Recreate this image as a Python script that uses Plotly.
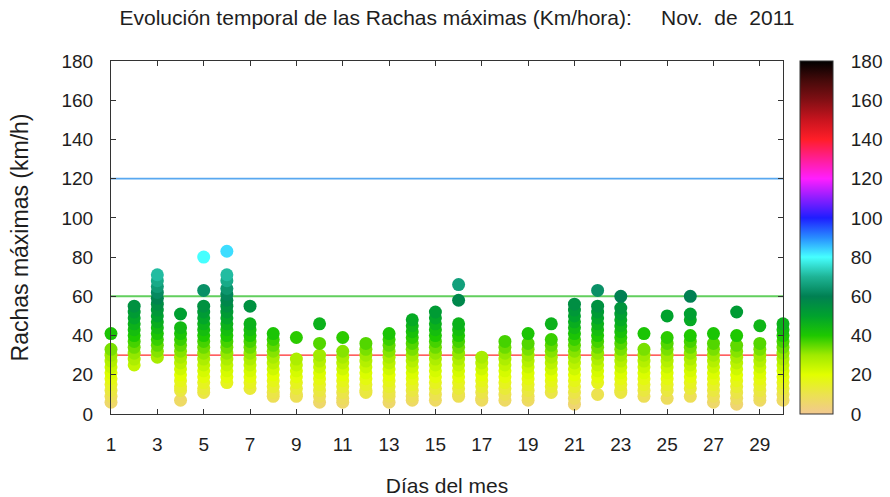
import plotly.graph_objects as go

# ---------------- data ----------------
days = list(range(1, 31))
x_tick_vals = list(range(1, 30, 2))
x_tick_text = [str(d) for d in x_tick_vals]
y_tick_vals = list(range(0, 181, 20))

gust_d01 = [41, 33, 30, 27, 24, 21, 18, 15, 12, 9, 6]
gust_d02 = [55, 52, 49, 46, 43, 40, 37, 34, 31, 28, 25]
gust_d03 = [71, 68, 65, 62, 59, 56, 53, 50, 47, 44, 41, 38, 35, 32, 29]
gust_d04 = [51, 44, 41, 38, 35, 32, 29, 26, 23, 20, 17, 14, 12, 7]
gust_d05 = [80, 63, 55, 52, 49, 46, 43, 40, 37, 34, 31, 28, 25, 22, 19, 16, 13, 11]
gust_d06 = [83, 71, 68, 64, 61, 58, 55, 52, 49, 46, 43, 40, 37, 34, 31, 28, 25, 22, 19, 16]
gust_d07 = [55, 46, 43, 40, 37, 34, 31, 28, 25, 22, 19, 16, 13]
gust_d08 = [41, 38, 35, 32, 29, 26, 23, 20, 17, 14, 11, 9]
gust_d09 = [39, 28, 25, 22, 19, 16, 13, 10, 9]
gust_d10 = [46, 36, 30, 27, 24, 21, 18, 15, 12, 9, 6]
gust_d11 = [39, 32, 29, 26, 23, 20, 17, 14, 11, 8, 6]
gust_d12 = [36, 33, 30, 27, 24, 21, 18, 15, 12, 11]
gust_d13 = [41, 38, 35, 32, 29, 26, 23, 20, 17, 14, 11, 9, 6]
gust_d14 = [48, 45, 42, 39, 36, 33, 30, 27, 24, 21, 18, 15, 12, 9, 7]
gust_d15 = [52, 49, 46, 43, 40, 37, 34, 31, 28, 25, 22, 19, 16, 13, 10, 7]
gust_d16 = [66, 58, 46, 43, 40, 37, 34, 31, 28, 25, 22, 19, 16, 13, 10, 9]
gust_d17 = [29, 26, 23, 20, 17, 14, 11, 8, 7]
gust_d18 = [37, 34, 31, 28, 25, 22, 19, 16, 13, 10, 7]
gust_d19 = [41, 36, 33, 30, 27, 24, 21, 18, 15, 12, 9, 7]
gust_d20 = [46, 38, 35, 32, 29, 26, 23, 20, 17, 14, 11]
gust_d21 = [56, 53, 50, 47, 44, 41, 38, 35, 32, 29, 26, 23, 20, 17, 14, 11, 8, 5]
gust_d22 = [63, 55, 52, 49, 46, 43, 40, 37, 34, 31, 28, 25, 22, 19, 16, 10]
gust_d23 = [60, 54, 51, 48, 45, 42, 39, 36, 33, 30, 27, 24, 21, 18, 15, 12, 11]
gust_d24 = [41, 33, 30, 27, 24, 21, 18, 15, 12, 9]
gust_d25 = [50, 39, 36, 33, 30, 27, 24, 21, 18, 15, 12, 8]
gust_d26 = [60, 51, 48, 40, 37, 34, 31, 28, 25, 22, 19, 16, 13, 9]
gust_d27 = [41, 36, 33, 30, 27, 24, 21, 18, 15, 12, 9, 6]
gust_d28 = [52, 40, 35, 32, 29, 26, 23, 20, 17, 14, 11, 8, 5]
gust_d29 = [45, 36, 33, 30, 27, 24, 21, 18, 15, 12, 9, 7]
gust_d30 = [46, 43, 40, 37, 34, 31, 28, 25, 22, 19, 16, 13, 10, 7]

gusts_by_day = [gust_d01, gust_d02, gust_d03, gust_d04, gust_d05, gust_d06,
                gust_d07, gust_d08, gust_d09, gust_d10, gust_d11, gust_d12,
                gust_d13, gust_d14, gust_d15, gust_d16, gust_d17, gust_d18,
                gust_d19, gust_d20, gust_d21, gust_d22, gust_d23, gust_d24,
                gust_d25, gust_d26, gust_d27, gust_d28, gust_d29, gust_d30]

threshold_levels = [30, 60, 120]
threshold_colors = ["#ff2a2a", "#62cf5e", "#58a8f0"]
threshold_widths = [1.3, 2, 1.6]

# ---------------- build ----------------
xs, ys = [], []
for d, vals in zip(days, gusts_by_day):
    for v in sorted(vals):
        xs.append(d)
        ys.append(v)

colorscale = [
    [0 / 180, "rgb(242,200,145)"],
    [10 / 180, "rgb(236,226,80)"],
    [20 / 180, "rgb(226,255,0)"],
    [30 / 180, "rgb(160,234,0)"],
    [40 / 180, "rgb(30,200,0)"],
    [50 / 180, "rgb(0,162,45)"],
    [60 / 180, "rgb(0,128,82)"],
    [70 / 180, "rgb(30,180,150)"],
    [80 / 180, "rgb(70,255,255)"],
    [90 / 180, "rgb(40,140,255)"],
    [100 / 180, "rgb(30,30,255)"],
    [110 / 180, "rgb(140,30,255)"],
    [120 / 180, "rgb(255,30,255)"],
    [130 / 180, "rgb(255,30,150)"],
    [140 / 180, "rgb(255,30,40)"],
    [150 / 180, "rgb(200,20,30)"],
    [160 / 180, "rgb(130,15,20)"],
    [170 / 180, "rgb(70,10,10)"],
    [180 / 180, "rgb(0,0,0)"],
]

W, H = 890, 497
L, R, T, B = 111, 107, 61, 83
plot_w = W - L - R
font_color = "#1e1e1e"
font_family = "Liberation Sans, Arial, sans-serif"

fig = go.Figure()
fig.add_trace(go.Scatter(
    x=xs, y=ys, mode="markers", cliponaxis=False, showlegend=False,
    hoverinfo="skip",
    marker=dict(
        size=13, color=ys, colorscale=colorscale, cmin=0, cmax=180,
        line=dict(width=0), showscale=True,
        colorbar=dict(
            x=(800 - L) / plot_w, xanchor="left", xpad=0,
            y=0.5, yanchor="middle", len=1, lenmode="fraction", ypad=0,
            thickness=33, thicknessmode="pixels",
            outlinewidth=1, outlinecolor="#333",
            tickvals=y_tick_vals, ticks="outside", ticklen=14,
            tickcolor="rgba(0,0,0,0)",
            tickfont=dict(size=19, color=font_color, family=font_family),
        ),
    ),
))

shapes = []
for lvl, col, wd in zip(threshold_levels, threshold_colors, threshold_widths):
    shapes.append(dict(type="line", xref="paper", yref="y", x0=0, x1=1,
                       y0=lvl, y1=lvl, layer="below",
                       line=dict(color=col, width=wd)))
# inner tick marks on colorbar
cb_x0 = (800 - L) / plot_w
cb_x1 = (833 - L) / plot_w
tk = 5 / plot_w
for v in y_tick_vals[1:-1]:
    shapes.append(dict(type="line", xref="paper", yref="y", x0=cb_x0, x1=cb_x0 + tk,
                       y0=v, y1=v, line=dict(color="#333", width=1)))
    shapes.append(dict(type="line", xref="paper", yref="y", x0=cb_x1 - tk, x1=cb_x1,
                       y0=v, y1=v, line=dict(color="#333", width=1)))

axis_common = dict(
    showgrid=False, zeroline=False, showline=True, linecolor="#333", linewidth=1,
    mirror="ticks", ticks="inside", ticklen=5, tickcolor="#333",
    tickfont=dict(size=19, color=font_color, family=font_family),
)

fig.update_layout(
    width=W, height=H,
    margin=dict(l=L, r=R, t=T, b=B, autoexpand=False),
    paper_bgcolor="white", plot_bgcolor="white",
    font=dict(family=font_family, color=font_color),
    title=dict(
        text="Evolución temporal de las Rachas máximas (Km/hora):&nbsp;&nbsp;&nbsp;&nbsp;&nbsp;Nov.&nbsp;&nbsp;de&nbsp;&nbsp;2011",
        x=457 / W, xanchor="center", y=1 - 18 / H, yanchor="middle",
        font=dict(size=21, color=font_color, family=font_family),
    ),
    xaxis=dict(
        range=[1, 30], tickmode="array", tickvals=x_tick_vals, ticktext=x_tick_text,
        ticklabelstandoff=13,
        title=dict(text="Días del mes", standoff=33,
                   font=dict(size=21, color=font_color, family=font_family)),
        **axis_common,
    ),
    yaxis=dict(
        range=[0, 180], tickmode="array", tickvals=y_tick_vals,
        ticklabelstandoff=13,
        title=dict(text="Rachas máximas (km/h)", standoff=26,
                   font=dict(size=23, color=font_color, family=font_family)),
        **axis_common,
    ),
    shapes=shapes,
)

fig.write_html("out.html", config={"displayModeBar": False},
               post_script="document.body.style.margin='0';")
